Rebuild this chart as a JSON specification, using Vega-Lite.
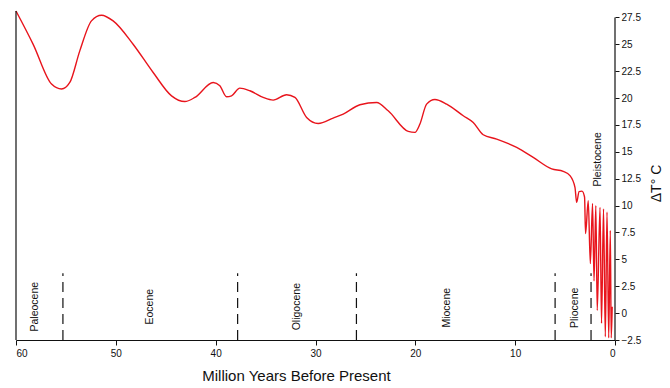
{
  "$schema": "https://vega.github.io/schema/vega-lite/v6.json",
  "width": 599,
  "height": 329,
  "autosize": {"type": "none"},
  "padding": {"left": 16, "top": 11, "right": 55, "bottom": 48},
  "background": "white",
  "config": {
    "view": {"stroke": null},
    "font": "Liberation Sans",
    "axis": {"grid": false, "domainColor": "#111", "tickColor": "#111", "labelColor": "#111", "titleColor": "#111", "labelFont": "Liberation Sans", "titleFont": "Liberation Sans", "titleFontWeight": "normal"}
  },
  "datasets": {
    "curve": [
      {"age": 60.0, "temp": 28.1},
      {"age": 58.28, "temp": 25.0},
      {"age": 56.44, "temp": 21.3},
      {"age": 55.44, "temp": 20.84},
      {"age": 54.61, "temp": 21.45},
      {"age": 53.61, "temp": 24.39},
      {"age": 52.44, "temp": 27.18},
      {"age": 51.43, "temp": 27.71},
      {"age": 50.27, "temp": 27.18},
      {"age": 48.27, "temp": 25.01},
      {"age": 46.26, "temp": 22.38},
      {"age": 44.42, "temp": 20.21},
      {"age": 43.09, "temp": 19.68},
      {"age": 42.08, "temp": 20.06},
      {"age": 40.25, "temp": 21.45},
      {"age": 39.58, "temp": 21.14},
      {"age": 38.91, "temp": 20.12},
      {"age": 38.41, "temp": 20.21},
      {"age": 37.58, "temp": 20.93},
      {"age": 36.57, "temp": 20.68},
      {"age": 35.24, "temp": 20.06},
      {"age": 34.24, "temp": 19.81},
      {"age": 32.9, "temp": 20.31},
      {"age": 32.06, "temp": 20.06},
      {"age": 30.89, "temp": 18.2},
      {"age": 29.73, "temp": 17.64},
      {"age": 28.23, "temp": 18.14},
      {"age": 27.22, "temp": 18.51},
      {"age": 25.55, "temp": 19.38},
      {"age": 23.88, "temp": 19.59},
      {"age": 22.72, "temp": 18.82},
      {"age": 20.71, "temp": 16.9},
      {"age": 20.04, "temp": 16.81},
      {"age": 19.54, "temp": 17.59},
      {"age": 18.87, "temp": 19.44},
      {"age": 18.04, "temp": 19.87},
      {"age": 16.86, "temp": 19.44},
      {"age": 15.2, "temp": 18.36},
      {"age": 14.2, "temp": 17.73},
      {"age": 13.2, "temp": 16.59},
      {"age": 11.85, "temp": 16.19},
      {"age": 9.85, "temp": 15.41},
      {"age": 8.19, "temp": 14.48},
      {"age": 6.34, "temp": 13.41},
      {"age": 5.18, "temp": 13.18},
      {"age": 4.51, "temp": 12.79},
      {"age": 4.01, "temp": 11.7},
      {"age": 3.84, "temp": 10.3},
      {"age": 3.6, "temp": 11.3},
      {"age": 3.31, "temp": 11.35},
      {"age": 3.05, "temp": 10.8},
      {"age": 2.95, "temp": 7.4},
      {"age": 2.68, "temp": 10.46},
      {"age": 2.47, "temp": 4.6},
      {"age": 2.25, "temp": 10.2},
      {"age": 2.1, "temp": 3.0},
      {"age": 1.92, "temp": 10.0},
      {"age": 1.78, "temp": 0.25},
      {"age": 1.5, "temp": 9.84},
      {"age": 1.35, "temp": -0.95},
      {"age": 1.15, "temp": 9.7},
      {"age": 0.97, "temp": -2.2},
      {"age": 0.8, "temp": 9.4},
      {"age": 0.63, "temp": -2.3},
      {"age": 0.47, "temp": 7.7},
      {"age": 0.38, "temp": -2.3},
      {"age": 0.28, "temp": 0.6}
    ],
    "bounds": [
      {"age": 55.3, "lo": -2.5, "hi": 3.7},
      {"age": 37.8, "lo": -2.5, "hi": 3.7},
      {"age": 25.9, "lo": -2.5, "hi": 3.7},
      {"age": 6.0, "lo": -2.5, "hi": 3.7},
      {"age": 2.4, "lo": -2.5, "hi": 3.7}
    ],
    "frame": [
      {"age": 60, "lo": -2.5, "hi": 28.1},
      {"age": 0, "lo": -2.5, "hi": 27.5}
    ],
    "epochs": [
      {"age": 58.1, "temp": 0.6, "name": "Paleocene"},
      {"age": 46.6, "temp": 0.6, "name": "Eocene"},
      {"age": 31.9, "temp": 0.6, "name": "Oligocene"},
      {"age": 16.8, "temp": 0.5, "name": "Miocene"},
      {"age": 4.0, "temp": 0.5, "name": "Pliocene"},
      {"age": 1.7, "temp": 14.3, "name": "Pleistocene"}
    ]
  },
  "layer": [
    {
      "data": {"name": "curve"},
      "transform": [{"calculate": "-datum.age", "as": "ord"}],
      "mark": {"type": "line", "color": "#e8141c", "strokeWidth": 1.4, "interpolate": "monotone"},
      "encoding": {
        "x": {"field": "age", "type": "quantitative", "scale": {"domain": [0, 60], "reverse": true, "nice": false, "zero": false},
          "axis": {"orient": "bottom", "values": [60, 50, 40, 30, 20, 10, 0], "tickCount": 20, "format": "d", "tickSize": 5, "labelFontSize": 10, "labelPadding": 3, "domainWidth": 1.2, "title": "Million Years Before Present", "titleFontSize": 15, "titlePadding": 10, "titleX": 280}},
        "y": {"field": "temp", "type": "quantitative", "scale": {"domain": [-2.5, 28.1], "nice": false, "zero": false},
          "axis": {"orient": "right", "values": [-2.5, 0, 2.5, 5, 7.5, 10, 12.5, 15, 17.5, 20, 22.5, 25, 27.5], "tickCount": 20, "format": ".1~f", "domain": false, "tickSize": 4, "labelFontSize": 10, "labelPadding": 2, "labelOverlap": false, "title": "ΔT° C", "titleFontSize": 14, "titleAngle": -90, "titleX": 41, "titleY": 172, "titleAlign": "center", "titleBaseline": "middle"}},
        "order": {"field": "ord", "type": "quantitative"}
      }
    },
    {
      "data": {"name": "frame"},
      "mark": {"type": "rule", "color": "#111", "strokeWidth": 1.2},
      "encoding": {
        "x": {"field": "age", "type": "quantitative"},
        "y": {"field": "lo", "type": "quantitative"},
        "y2": {"field": "hi"}
      }
    },
    {
      "data": {"name": "bounds"},
      "mark": {"type": "rule", "color": "#111", "strokeWidth": 1.2, "strokeDash": [10, 6]},
      "encoding": {
        "x": {"field": "age", "type": "quantitative"},
        "y": {"field": "lo", "type": "quantitative"},
        "y2": {"field": "hi"}
      }
    },
    {
      "data": {"name": "epochs"},
      "mark": {"type": "text", "angle": 270, "align": "center", "baseline": "middle", "fontSize": 10.5, "color": "#111", "font": "Liberation Sans"},
      "encoding": {
        "x": {"field": "age", "type": "quantitative"},
        "y": {"field": "temp", "type": "quantitative"},
        "text": {"field": "name"}
      }
    }
  ]
}
